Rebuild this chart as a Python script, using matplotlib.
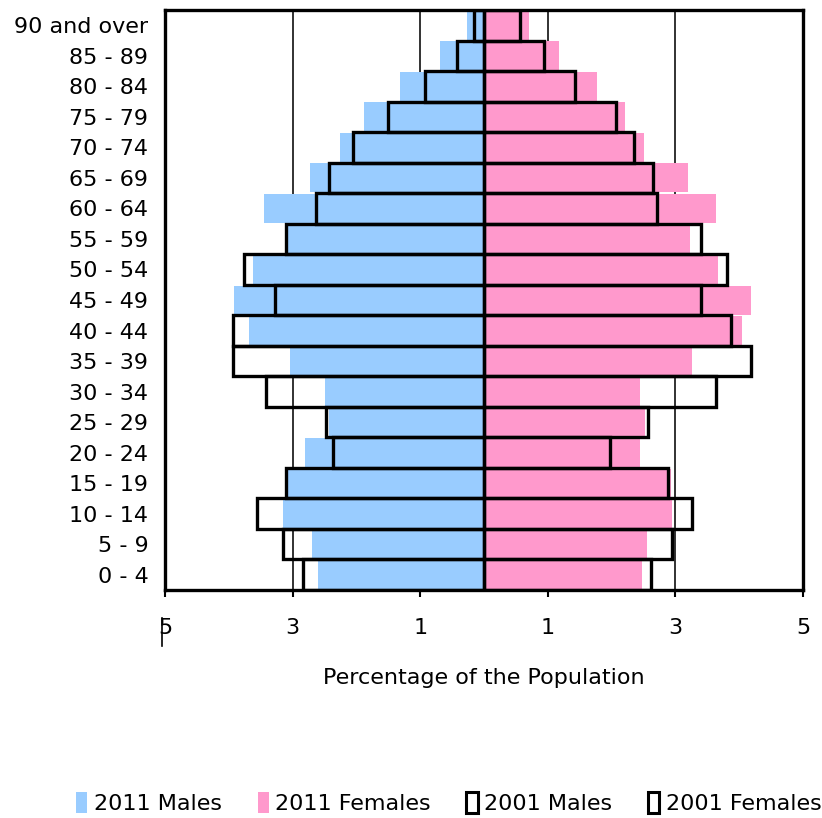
"""Piramide de poblacion 2011 frente a 2001."""
import matplotlib
matplotlib.use("Agg")
import matplotlib.pyplot as plt
from matplotlib.patches import Patch
import numpy as np

AGE_GROUPS = ["0 - 4", "5 - 9", "10 - 14", "15 - 19", "20 - 24", "25 - 29", "30 - 34",
              "35 - 39", "40 - 44", "45 - 49", "50 - 54", "55 - 59", "60 - 64", "65 - 69",
              "70 - 74", "75 - 79", "80 - 84", "85 - 89", "90 and over"]
MALES_2011 = [2.60, 2.70, 3.15, 3.09, 2.80, 2.43, 2.49, 3.04, 3.68, 3.92, 3.62, 3.07,
              3.45, 2.73, 2.25, 1.88, 1.31, 0.69, 0.27]
FEMALES_2011 = [2.48, 2.55, 2.94, 2.93, 2.45, 2.53, 2.45, 3.26, 4.04, 4.18, 3.67, 3.23,
                3.64, 3.19, 2.51, 2.21, 1.77, 1.18, 0.71]
MALES_2001 = [2.83, 3.15, 3.56, 3.11, 2.36, 2.47, 3.42, 3.93, 3.93, 3.28, 3.76, 3.11,
              2.64, 2.43, 2.06, 1.50, 0.92, 0.42, 0.16]
FEMALES_2001 = [2.61, 2.95, 3.26, 2.88, 1.97, 2.57, 3.64, 4.18, 3.87, 3.40, 3.80, 3.40,
                2.71, 2.65, 2.35, 2.07, 1.43, 0.94, 0.57]
XTICKS = [-5, -3, -1, 1, 3, 5]
XTICK_LABELS = ["5", "3", "1", "1", "3", "5"]

BLUE = "#99CCFF"
PINK = "#FF99CC"
FS = 16

plt.rcParams["font.family"] = ["DejaVu Sans"]

fig = plt.figure(figsize=(8.22, 8.18), dpi=100)
ax = fig.add_axes([0.2007, 0.2787, 0.7763, 0.7091])

y = np.arange(len(AGE_GROUPS))
ax.barh(y, -np.array(MALES_2011), height=0.95, color=BLUE, zorder=2)
ax.barh(y, FEMALES_2011, height=0.95, color=PINK, zorder=2)
ax.barh(y, -np.array(MALES_2001), height=1.0, fill=False, edgecolor="black", linewidth=2.4, zorder=3)
ax.barh(y, FEMALES_2001, height=1.0, fill=False, edgecolor="black", linewidth=2.4, zorder=3)

ax.set_xlim(-5, 5)
ax.set_ylim(-0.5, len(AGE_GROUPS) - 0.5)
ax.set_xticks(XTICKS, XTICK_LABELS, fontsize=FS)
ax.set_yticks(y, AGE_GROUPS, fontsize=FS)
ax.tick_params(axis="x", direction="out", length=5, width=1.5, pad=15)
ax.tick_params(axis="y", length=0, pad=12)
ax.grid(axis="x", color="#222222", linewidth=1.3)
ax.set_axisbelow(True)
for spine in ax.spines.values():
    spine.set_linewidth(2.4)
ax.axvline(-5.05, ymin=-0.097, ymax=-0.048, color="black", linewidth=1.2, clip_on=False)
ax.set_xlabel("Percentage of the Population", fontsize=FS, labelpad=22)

handles = [
    Patch(facecolor=BLUE, edgecolor="none", label="2011 Males"),
    Patch(facecolor=PINK, edgecolor="none", label="2011 Females"),
    Patch(facecolor="white", edgecolor="black", linewidth=2.2, label="2001 Males"),
    Patch(facecolor="white", edgecolor="black", linewidth=2.2, label="2001 Females"),
]
fig.legend(handles=handles, loc="center", bbox_to_anchor=(0.546, 0.018), ncol=4,
           frameon=False, fontsize=FS, handlelength=0.5, handleheight=1.1,
           handletextpad=0.3, columnspacing=1.6)

fig.savefig("out.png", dpi=100)
